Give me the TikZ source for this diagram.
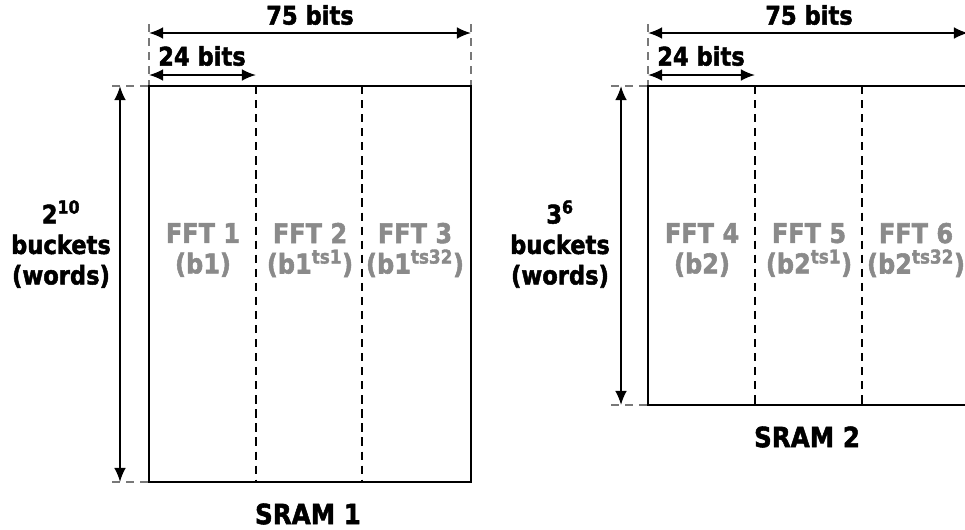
\documentclass[tikz,border=0pt]{standalone}
\usepackage{fontspec}
\setmainfont{DejaVu Sans Bold}[FakeBold=2]
\usetikzlibrary{arrows.meta}
\definecolor{fftgray}{RGB}{138,138,138}
\definecolor{guidegray}{RGB}{120,120,120}
\tikzset{
    memtext/.style={font=\fontsize{19.3}{23}\selectfont, align=center, inner sep=0pt, yscale=1.13},
    fftlabel/.style={memtext, font=\fontsize{20.5}{23}\selectfont, text=fftgray},
    sramlabel/.style={memtext, font=\fontsize{21}{23}\selectfont},
    dimarrow/.style={<->, line width=1.6pt},
    guide/.style={guidegray, line width=1.2pt, dash pattern=on 7pt off 5pt},
    divider/.style={line width=1.4pt, dash pattern=on 7pt off 5pt},
    membox/.style={draw, line width=1.9pt}
}
\begin{document}
\begin{tikzpicture}[x=0.03cm, y=-0.03cm, >={Latex[length=12pt,width=10pt]}]
    \useasboundingbox (0,0) rectangle (965,529);
    \clip (0,0) rectangle (965,529);

    % SRAM 1 corners
    \coordinate (s1tl) at (149,86);
    \coordinate (s1br) at (471,482);
    \coordinate (s1tr) at (471,86);
    \coordinate (s1bl) at (149,482);

    % Guide lines
    \draw[guide] (149,24) -- (s1tl);
    \draw[guide] (471,24) -- (s1tr);
    \draw[guide] (112,86) -- (s1tl);
    \draw[guide] (112,482) -- (s1bl);

    % Memory block and column dividers
    \draw[membox] (s1tl) rectangle (s1br);
    \draw[divider] (256,86) -- (256,482);
    \draw[divider] (362,86) -- (362,482);

    % Dimensions
    \draw[dimarrow] (149,33) -- (471,33);
    \node[memtext] (s1w) at (310,15) {75 bits};
    \draw[dimarrow] (149,75) -- (256,75);
    \node[memtext] (s1c) at (202,56) {24 bits};
    \draw[dimarrow] (120,86) -- (120,482);
    \node[memtext] (s1d) at (61,244) {2\textsuperscript{10}\\buckets\\(words)};

    % FFT columns
    \node[fftlabel] (fft1) at (203,250) {FFT 1\\(b1)};
    \node[fftlabel] (fft2) at (310,250) {FFT 2\\(b1\textsuperscript{ts1})};
    \node[fftlabel] (fft3) at (415,250) {FFT 3\\(b1\textsuperscript{ts32})};
    \node[sramlabel] (sram1) at (308,514) {SRAM 1};

    % SRAM 2 corners
    \coordinate (s2tl) at (648,86);
    \coordinate (s2br) at (970,405);
    \coordinate (s2tr) at (970,86);
    \coordinate (s2bl) at (648,405);

    % Guide lines
    \draw[guide] (648,24) -- (s2tl);
    \draw[guide] (611,86) -- (s2tl);
    \draw[guide] (611,405) -- (s2bl);

    % Memory block and column dividers
    \draw[membox] (s2tl) rectangle (s2br);
    \draw[divider] (755,86) -- (755,405);
    \draw[divider] (862,86) -- (862,405);

    % Dimensions
    \draw[dimarrow] (648,33) -- (968,33);
    \node[memtext] (s2w) at (809,15) {75 bits};
    \draw[dimarrow] (648,75) -- (755,75);
    \node[memtext] (s2c) at (701,56) {24 bits};
    \draw[dimarrow] (621,86) -- (621,405);
    \node[memtext] (s2d) at (560,244) {3\textsuperscript{6}\\buckets\\(words)};

    % FFT columns
    \node[fftlabel] (fft4) at (702,250) {FFT 4\\(b2)};
    \node[fftlabel] (fft5) at (809,250) {FFT 5\\(b2\textsuperscript{ts1})};
    \node[fftlabel] (fft6) at (916,250) {FFT 6\\(b2\textsuperscript{ts32})};
    \node[sramlabel] (sram2) at (807,437) {SRAM 2};

\end{tikzpicture}
\end{document}
